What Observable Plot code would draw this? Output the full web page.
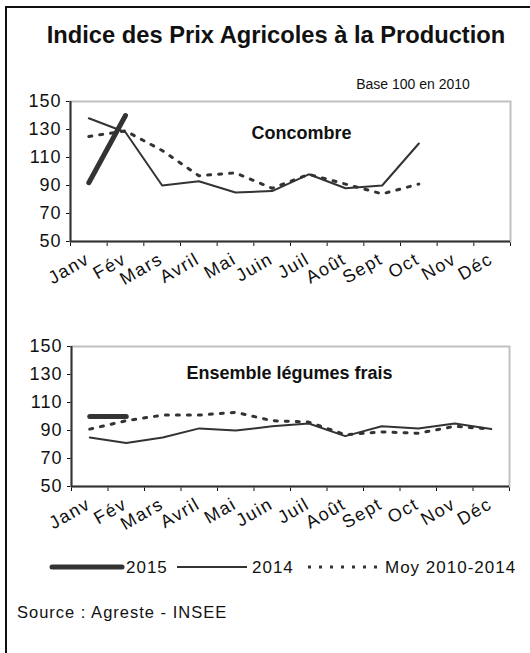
<!DOCTYPE html>
<html><head><meta charset="utf-8">
<script src="https://cdn.jsdelivr.net/npm/d3@7"></script>
<script src="https://cdn.jsdelivr.net/npm/@observablehq/plot@0.6"></script>
<style>
body{margin:0;background:#fff;}
#page{position:relative;width:530px;height:653px;overflow:hidden;background:#fff;font-family:"Liberation Sans",Arial,sans-serif;color:#111;}
#page svg{position:absolute;left:0;}
</style></head><body><div id="page"></div>
<script>
// ---- data ----
const months = ["Janv","Fév","Mars","Avril","Mai","Juin","Juil","Août","Sept","Oct","Nov","Déc"];
const yTicks = [50, 70, 90, 110, 130, 150];
const seriesNames = ["2015", "2014", "Moy 2010-2014"];

const concombre2015 = [92, 140];
const concombre2014 = [138, 128, 90, 93, 85, 86, 98, 88, 90, 120];
const concombreMoy  = [125, 129, 115, 97, 99, 88, 98, 91, 84, 91];

const legumes2015 = [100, 100];
const legumes2014 = [85, 81, 85, 91.5, 90, 93, 95, 86, 93, 91.5, 95, 91];
const legumesMoy  = [91, 97, 101, 101, 103, 97, 96, 87, 89, 88, 93, 91];

const FONT = '"Liberation Sans", Arial, sans-serif';
const INK = "#333";
const DOTS = "3,8";

const page = document.getElementById("page");
const ser = arr => arr.map((v, i) => ({i, v}));

function chart({title, s2015, s2014, moy, top, mL, mR, tdx, tdy}) {
  const p = Plot.plot({
    width: 530, height: 205,
    marginTop: 16, marginBottom: 49, marginLeft: mL, marginRight: mR,
    style: {fontFamily: FONT, fontSize: "18px", color: "#111", background: "transparent", overflow: "visible"},
    x: {domain: [-0.5, 11.5], ticks: d3.range(-0.5, 12, 1), tickSize: 5, tickFormat: () => "", label: null},
    y: {domain: [50, 150], ticks: yTicks, tickSize: 4, tickPadding: 5, label: null},
    marks: [
      Plot.frame({stroke: "#c0c0c0", strokeWidth: 2}),
      Plot.ruleY([50], {stroke: INK, strokeWidth: 2}),
      Plot.ruleX([-0.5], {stroke: INK, strokeWidth: 2}),
      Plot.line(ser(moy), {x: "i", y: "v", stroke: INK, strokeWidth: 3, strokeDasharray: DOTS}),
      Plot.line(ser(s2014), {x: "i", y: "v", stroke: INK, strokeWidth: 2}),
      Plot.line(ser(s2015), {x: "i", y: "v", stroke: INK, strokeWidth: 5, strokeLinecap: "round"}),
      Plot.text([title], {frameAnchor: "top", dx: tdx, dy: tdy, fontWeight: "bold", fontSize: 18, fill: "#111"}),
      Plot.text(months, {x: (d, i) => i, frameAnchor: "bottom", rotate: -30, textAnchor: "end", dx: 2, dy: 21, fontSize: 18, fill: "#111"})
    ]
  });
  p.style.top = top + "px";
  // wider, spaced glyphs like the original export
  d3.select(p).selectAll("text").each(function() {
    const t = this.textContent;
    if (months.includes(t)) this.setAttribute("letter-spacing", "1.5px");
    else if (yTicks.map(String).includes(t)) this.setAttribute("letter-spacing", "1px");
  });
  page.appendChild(p);
}

chart({title: "Concombre", s2015: concombre2015, s2014: concombre2014, moy: concombreMoy, top: 85, mL: 70, mR: 20, tdx: 11, tdy: 25});
chart({title: "Ensemble légumes frais", s2015: legumes2015, s2014: legumes2014, moy: legumesMoy, top: 330, mL: 71, mR: 21, tdx: -1, tdy: 20});

// ---- overlay: border, titles, legend, source ----
const svg = d3.select(page).append("svg").attr("width", 530).attr("height", 653)
  .style("top", "0px").style("font-family", FONT).style("pointer-events", "none");
svg.append("rect").attr("x", 6).attr("y", 7).attr("width", 600).attr("height", 700)
  .attr("fill", "none").attr("stroke", "#111").attr("stroke-width", 2);
svg.append("text").attr("x", 276).attr("y", 43).attr("text-anchor", "middle")
  .attr("font-size", 23.7).attr("font-weight", "bold").attr("fill", "#111")
  .text("Indice des Prix Agricoles à la Production");
svg.append("text").attr("x", 413).attr("y", 89).attr("text-anchor", "middle")
  .attr("font-size", 14).attr("fill", "#111").text("Base 100 en 2010");

const legend = [
  {name: seriesNames[0], x1: 52, x2: 122, tx: 126, w: 5, dash: null, cap: "round"},
  {name: seriesNames[1], x1: 177, x2: 247, tx: 252, w: 2, dash: null, cap: "butt"},
  {name: seriesNames[2], x1: 308, x2: 380, tx: 385, w: 3, dash: DOTS, cap: "butt"}
];
const lg = svg.append("g");
legend.forEach(d => {
  lg.append("line").attr("x1", d.x1).attr("x2", d.x2).attr("y1", 567).attr("y2", 567)
    .attr("stroke", INK).attr("stroke-width", d.w).attr("stroke-linecap", d.cap)
    .attr("stroke-dasharray", d.dash);
  lg.append("text").attr("x", d.tx).attr("y", 573).attr("font-size", 17)
    .attr("letter-spacing", "1px").attr("fill", "#111").text(d.name);
});
svg.append("text").attr("x", 17).attr("y", 618).attr("font-size", 16.5)
  .attr("letter-spacing", "1px").attr("fill", "#111").text("Source : Agreste - INSEE");
</script></body></html>
